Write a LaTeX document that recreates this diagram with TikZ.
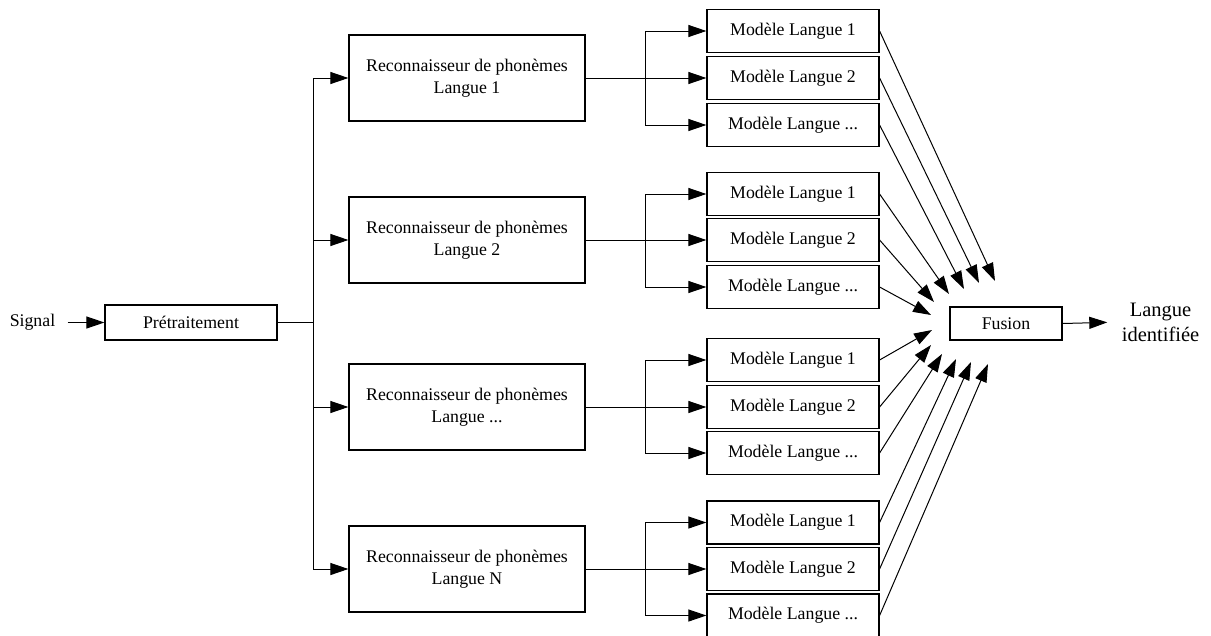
\documentclass[tikz,border=0pt]{standalone}
\usepackage{fontspec}
\setmainfont{Liberation Serif}
\usetikzlibrary{arrows.meta}
\begin{document}
\begin{tikzpicture}[x=1pt,y=-1pt,
  line width=1pt,
  arr/.style={-{Triangle[length=18pt,width=12pt]}},
  txt/.style={font=\fontsize{17.8}{22.5}\selectfont, inner sep=0pt, align=center},
  rbox/.style={txt, draw, line width=1.2pt, minimum width=236pt, minimum height=86pt},
  mbox/.style={txt, draw, line width=1.2pt, minimum width=172pt, minimum height=43pt},
  pbox/.style={txt, draw, line width=1.2pt, minimum width=172pt, minimum height=35pt},
  fbox/.style={txt, draw, line width=1.2pt, minimum width=112pt, minimum height=33pt},
  outtxt/.style={font=\fontsize{20.5}{25}\selectfont, inner sep=0pt, align=center}
]
\useasboundingbox (0,0) rectangle (1211,635);

% input side
\node[txt] (signal) at (32.5,322.5) {Signal};
\node[pbox] (pre) at (191,322.5) {Prétraitement};
\draw[arr, shorten <=12pt] (signal.east) -- (pre.west);

% recognizers
\node[rbox] (r1) at (467,78) {Reconnaisseur de phonèmes\\Langue 1};
\node[rbox] (r2) at (467,240) {Reconnaisseur de phonèmes\\Langue 2};
\node[rbox] (r3) at (467,407) {Reconnaisseur de phonèmes\\Langue ...};
\node[rbox] (r4) at (467,569) {Reconnaisseur de phonèmes\\Langue N};

% models
\node[mbox] (m11) at (793,31) {Modèle Langue 1};
\node[mbox] (m12) at (793,78) {Modèle Langue 2};
\node[mbox] (m13) at (793,125) {Modèle Langue ...};
\node[mbox] (m21) at (793,194) {Modèle Langue 1};
\node[mbox] (m22) at (793,240) {Modèle Langue 2};
\node[mbox] (m23) at (793,287) {Modèle Langue ...};
\node[mbox] (m31) at (793,360) {Modèle Langue 1};
\node[mbox] (m32) at (793,407) {Modèle Langue 2};
\node[mbox] (m33) at (793,453) {Modèle Langue ...};
\node[mbox] (m41) at (793,522.5) {Modèle Langue 1};
\node[mbox] (m42) at (793,569) {Modèle Langue 2};
\node[mbox] (m43) at (793,615.5) {Modèle Langue ...};

% fusion and output
\node[fbox] (fus) at (1006,323.5) {Fusion};
\node[outtxt] (out) at (1160.5,322) {Langue\\identifiée};
\draw[arr, shorten >=14pt] (fus.east) -- (out.west);

% split after preprocessing
\coordinate (j) at (313,322.5);
\draw (pre.east) -- (j);
\draw (j |- r1.west) -- (j |- r4.west);
\foreach \i in {1,2,3,4} {
  \draw[arr] (j |- r\i.west) -- (r\i.west);
}

% split to models
\coordinate (b) at (645,0);
\foreach \i in {1,2,3,4} {
  \draw[arr] (r\i.east) -- (m\i2.west);
  \draw (b |- m\i1.west) -- (b |- m\i3.west);
  \draw[arr] (b |- m\i1.west) -- (m\i1.west);
  \draw[arr] (b |- m\i3.west) -- (m\i3.west);
}

% converging arrows to fusion
\coordinate (t11) at (995,281);
\coordinate (t12) at (979,283);
\coordinate (t13) at (964,289);
\coordinate (t21) at (949,294);
\coordinate (t22) at (934,302);
\coordinate (t23) at (931,315);
\coordinate (t31) at (932,330);
\coordinate (t32) at (931,345);
\coordinate (t33) at (942,354);
\coordinate (t41) at (956,359);
\coordinate (t42) at (971,362);
\coordinate (t43) at (988,364);
\foreach \i in {1,2,3,4} {
  \foreach \k in {1,2,3} {
    \draw[arr] (m\i\k.east) -- (t\i\k);
  }
}
\end{tikzpicture}
\end{document}
